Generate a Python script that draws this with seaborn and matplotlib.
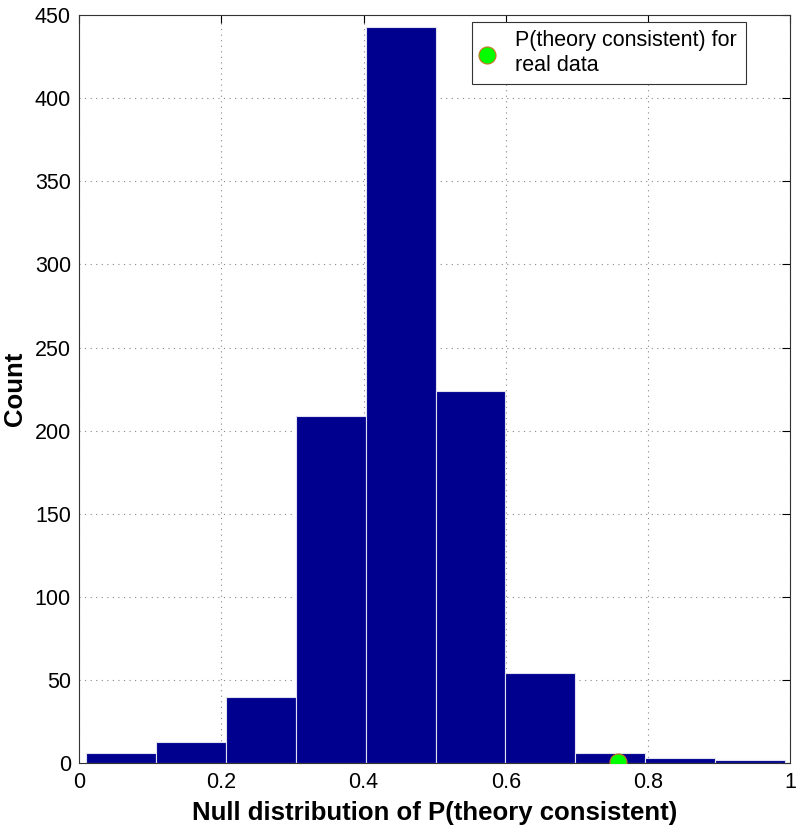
import numpy as np
import pandas as pd
import seaborn as sns
import matplotlib.pyplot as plt
from matplotlib.ticker import FuncFormatter

# histogram (10 bins, 1000 null samples)
bin_edges = [0.0095, 0.1078, 0.2061, 0.3044, 0.4027, 0.5010,
             0.5993, 0.6976, 0.7959, 0.8942, 0.9925]
counts = [6, 13, 40, 209, 443, 224, 54, 6, 3, 2]

# observed value for the real data
real_x = [0.757]
real_y = [1]

sns.set_style("white")
plt.rcParams['font.family'] = ['Liberation Sans', 'DejaVu Sans']
plt.rcParams['text.color'] = 'black'
plt.rcParams['axes.labelcolor'] = 'black'
plt.rcParams['xtick.color'] = 'black'
plt.rcParams['ytick.color'] = 'black'

centers = [(bin_edges[i] + bin_edges[i + 1]) / 2 for i in range(len(counts))]
df = pd.DataFrame({"p": centers, "n": counts})

fig = plt.figure(figsize=(8, 8.35), dpi=100)
ax = fig.add_axes([0.099, 0.086, 0.889, 0.896])

sns.histplot(data=df, x="p", weights="n", bins=bin_edges, ax=ax,
             color="#00008F", alpha=1, edgecolor="#e0e0ee", linewidth=0.8)
sns.scatterplot(x=real_x, y=real_y, ax=ax, color="#00ff00", s=150,
                edgecolor="#c87020", linewidth=0.8, zorder=5,
                label="P(theory consistent) for\nreal data")

ax.set_xlim(0, 1)
ax.set_ylim(0, 450)
ax.set_xticks(np.arange(0, 1.01, 0.2))
ax.set_yticks(np.arange(0, 451, 50))
ax.xaxis.set_major_formatter(FuncFormatter(lambda v, p: "%g" % round(v, 1)))
ax.grid(True, linestyle=(0, (1, 4)), color="#888888", linewidth=0.8)
ax.set_axisbelow(True)
ax.tick_params(direction="in", length=6, top=True, right=True,
               labelsize=15.5, width=0.8, pad=6)
for s in ax.spines.values():
    s.set_linewidth(0.8)
    s.set_color("#333333")

ax.set_xlabel("Null distribution of P(theory consistent)", fontsize=18.5,
              fontweight="bold", labelpad=6)
ax.set_ylabel("Count", fontsize=18.5, fontweight="bold")
ax.yaxis.set_label_coords(-0.073, 0.5)

leg = ax.legend(loc="upper right", fontsize=15.5, frameon=True, fancybox=False,
                edgecolor="#333333", framealpha=1, borderpad=0.4,
                handlelength=0.6, handletextpad=1.0, borderaxespad=0,
                bbox_to_anchor=(0.937, 0.991))
leg.get_frame().set_linewidth(0.8)

fig.savefig("out.png", dpi=100)
